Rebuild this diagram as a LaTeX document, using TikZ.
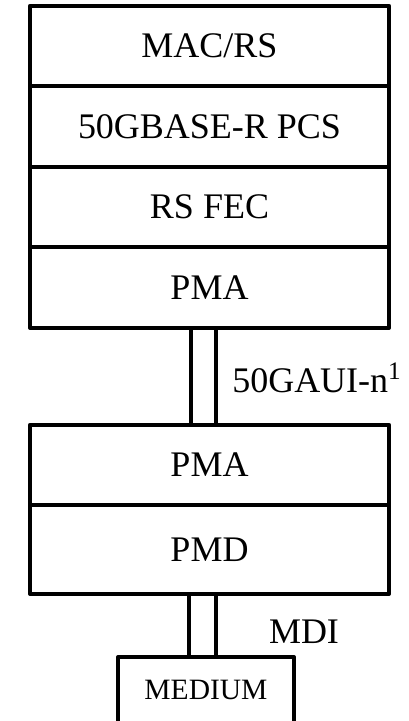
\documentclass[tikz,border=0pt]{standalone}
\usepackage{fontspec}
\setmainfont{Liberation Serif}
\usetikzlibrary{positioning,calc}

\tikzset{
  layer/.style={draw,line width=1mm,line join=round,outer sep=0pt,
    minimum width=89.75mm,minimum height=20.125mm,
    font=\fontsize{25.6}{30}\selectfont},
  medbox/.style={draw,line width=1mm,line join=round,outer sep=0pt,
    minimum width=44mm,minimum height=16.5mm,
    font=\fontsize{21}{25}\selectfont},
  lbl/.style={inner sep=0pt,font=\fontsize{25.6}{30}\selectfont},
  bar/.style={line width=1mm,line join=round}
}

\begin{document}
\begin{tikzpicture}[x=0.25mm,y=-0.25mm]
  \useasboundingbox (0,0) rectangle (408,721);

  % upper stack
  \node[layer] (mac) at (209.5,46) {MAC/RS};
  \node[layer,below=0pt of mac] (pcs) {50GBASE-R PCS};
  \node[layer,below=0pt of pcs] (fec) {RS FEC};
  \node[layer,below=0pt of fec] (pmaup) {PMA};

  % lower stack
  \node[layer] (pmalow) at (209.5,465) {PMA};
  \node[layer,below=0pt of pmalow,minimum height=22.125mm] (pmd) {PMD};

  % medium, open at the bottom edge
  \node[medbox,anchor=north] (medium) at (206,657) {MEDIUM};

  % interface bars
  \draw[bar] (pmaup.south -| 191,0) rectangle (pmalow.north -| 216,0);
  \draw[bar] (pmd.south -| 189,0) rectangle (medium.north -| 216,0);

  % interface names
  \node[lbl,anchor=base west] (gaui) at (232,392) {50GAUI-n\textsuperscript{1}};
  \node[lbl,anchor=base] (mdi) at (304,643) {MDI};
\end{tikzpicture}
\end{document}
